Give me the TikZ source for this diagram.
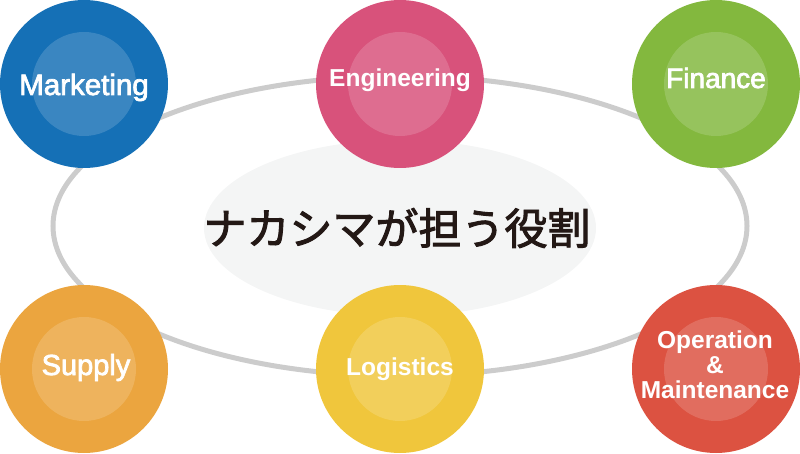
\documentclass[tikz,border=0pt]{standalone}
\usepackage{fontspec}
\setmainfont{Liberation Sans}
\newfontfamily\cjk{Noto Sans CJK JP}[FakeBold=2.2]
\newfontfamily\medfont{Liberation Sans}[FakeBold=2.5]
\definecolor{ringgray}{HTML}{CCCCCC}
\definecolor{centerfill}{HTML}{F4F5F5}
\definecolor{titlecol}{HTML}{231815}
\definecolor{cMkt}{HTML}{1570B6}
\definecolor{cEng}{HTML}{D8527B}
\definecolor{cFin}{HTML}{83B83E}
\definecolor{cSup}{HTML}{EBA53F}
\definecolor{cLog}{HTML}{F0C63C}
\definecolor{cOpe}{HTML}{DC5241}
\tikzset{
  outer/.style={circle, minimum size=168pt, inner sep=0pt},
  innerdisc/.style={circle, fill=white, fill opacity=0.16, minimum size=104pt, inner sep=0pt},
  boldlbl/.style={text=white, anchor=base, inner sep=0pt, font=\fontsize{24.5}{25}\selectfont\bfseries},
  medlbl/.style={text=white, anchor=base, inner sep=0pt},
}
\begin{document}
\begin{tikzpicture}[x=1pt,y=-1pt]
\useasboundingbox (0,0) rectangle (800,454);
% center light ellipse
\fill[centerfill] (400,228) ellipse [x radius=196pt, y radius=88pt];
% ring
\draw[ringgray, line width=5pt] (400,226) ellipse [x radius=347pt, y radius=150pt];
% circles
\node[outer, fill=cMkt] (mkt) at (84,84) {};
\node[outer, fill=cEng] (eng) at (400,84) {};
\node[outer, fill=cFin] (fin) at (716,84) {};
\node[outer, fill=cSup] (sup) at (84,369) {};
\node[outer, fill=cLog] (log) at (400,369) {};
\node[outer, fill=cOpe] (ope) at (716,369) {};
\node[innerdisc] (mkti) at (84,84) {};
\node[innerdisc] (engi) at (400,84) {};
\node[innerdisc] (fini) at (716,84) {};
\node[innerdisc] (supi) at (84,369) {};
\node[innerdisc] (logi) at (400,369) {};
\node[innerdisc] (opei) at (716,369) {};
% labels
\node[medlbl, font=\fontsize{29.5}{30}\medfont] (tmkt) at (84,95) {Marketing};
\node[boldlbl] (teng) at (400,87) {Engineering};
\node[medlbl, font=\fontsize{28}{30}\medfont] (tfin) at (716,88) {Finance};
\node[medlbl, font=\fontsize{29}{30}\medfont] (tsup) at (86,375) {Supply};
\node[boldlbl] (tlog) at (400,375) {Logistics};
\node[boldlbl] (tope1) at (715,348) {Operation};
\node[boldlbl] (tope2) at (715,373) {\&};
\node[boldlbl] (tope3) at (715,398) {Maintenance};
% title
\node[text=titlecol, inner sep=0pt, font=\fontsize{43}{45}\cjk] (title) at (397,228) {ナカシマが担う役割};
\end{tikzpicture}
\end{document}
